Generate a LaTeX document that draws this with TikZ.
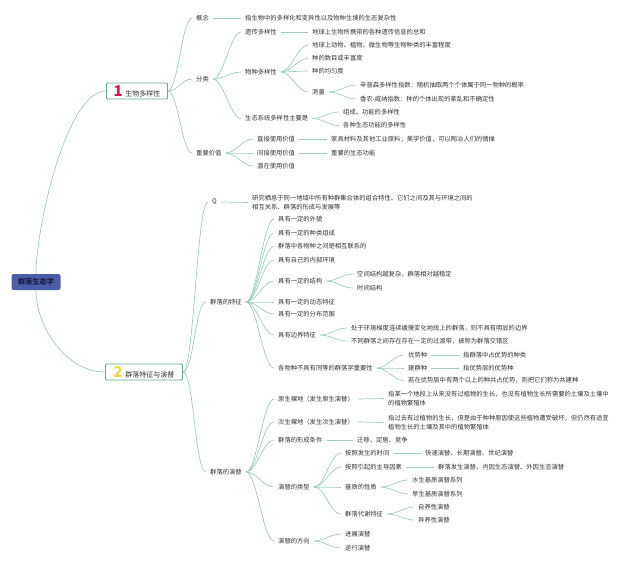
\documentclass[tikz,border=0pt]{standalone}
\usepackage{fontspec}
\setmainfont{Noto Sans CJK SC}
\definecolor{lnc}{HTML}{A3CCBF}
\definecolor{boxc}{HTML}{6AA593}
\definecolor{txt}{HTML}{333333}
\definecolor{rootc}{HTML}{4A5EA8}
\definecolor{roott}{HTML}{1B2142}
\definecolor{onec}{HTML}{D81B4A}
\definecolor{twoc}{HTML}{F0D84A}
\tikzset{
  t/.style={anchor=west, inner xsep=4pt, inner ysep=1pt, text=txt, align=left,
            font=\fontsize{6.3}{9}\selectfont},
  ln/.style={draw=lnc, line width=0.7pt},
  cv/.style={to path={.. controls +(#1,0) and +(-#1,0) .. (\tikztotarget)}},
  cv/.default=11,
  mainbox/.style={draw=boxc, line width=0.9pt, fill=white, rounded corners=1pt,
            minimum height=16pt, inner xsep=3pt, inner ysep=0pt, text=txt,
            font=\fontsize{7}{8}\selectfont, anchor=west},
}
\begin{document}
\begin{tikzpicture}
\useasboundingbox (0,0) rectangle (640pt,-565pt);
\begin{scope}[x=1pt,y=1pt]
% root and main boxes
\node[fill=rootc, rounded corners=2pt, minimum width=49pt, minimum height=16pt, inner sep=0pt,
      text=roott, font=\fontsize{7.2}{8}\selectfont\bfseries] (root) at (36,-282) {群落生态学};
\node[mainbox, minimum width=61pt] (b1) at (106,-91)
  {{\color{onec}\fontsize{15}{15}\selectfont\bfseries 1}\hspace{2.5pt}生物多样性};
\node[mainbox, minimum width=77pt] (b2) at (105,-372)
  {{\color{twoc}\fontsize{15}{15}\selectfont\bfseries 2}\hspace{2.5pt}群落特征与演替};

% ---- branch 1
\node[t] (gn) at (192,-18) {概念};
\node[t] (gnd) at (241,-18) {指生物中的多样化和变异性以及物种生境的生态复杂性};
\node[t] (fl) at (192,-79) {分类};
\node[t] (yc) at (241,-32) {遗传多样性};
\node[t] (ycd) at (308,-32) {地球上生物所携带的各种遗传信息的总和};
\node[t] (wz) at (241,-72) {物种多样性};
\node[t] (wz1) at (308,-45) {地球上动物、植物、微生物等生物种类的丰富程度};
\node[t] (wz2) at (308,-58.5) {种的数目或丰富度};
\node[t] (wz3) at (308,-71) {种的均匀度};
\node[t] (cl) at (308,-92) {测量};
\node[t] (cl1) at (356,-85) {辛普森多样性指数：随机抽取两个个体属于同一物种的概率};
\node[t] (cl2) at (356,-99) {香农-威纳指数：种的个体出现的紊乱和不确定性};
\node[t] (st) at (241,-118.5) {生态系统多样性主要是};
\node[t] (st1) at (339,-112) {组成、功能的多样性};
\node[t] (st2) at (339,-125.5) {各种生态功能的多样性};
\node[t] (zy) at (192,-153) {重要价值};
\node[t] (zj) at (253,-139) {直接使用价值};
\node[t] (zjd) at (327,-139) {家具材料及其他工业原料；美学价值，可以陶冶人们的情操};
\node[t] (jj) at (253,-153) {间接使用价值};
\node[t] (jjd) at (327,-153) {重要的生态功能};
\node[t] (qz) at (253,-166) {潜在使用价值};

% ---- branch 2
\node[t] (q) at (208,-202) {Q};
\node[t] (qd) at (248,-202.5) {研究栖息于同一地域中所有种群集合体的组合特性、它们之间及其与环境之间的\\相互关系、群落的形成与发展等};
\node[t] (tz) at (206,-302) {群落的特征};
\node[t] (tz1) at (274,-219) {具有一定的外貌};
\node[t] (tz2) at (274,-233) {具有一定的种类组成};
\node[t] (tz3) at (274,-246.5) {群落中各物种之间是相互联系的};
\node[t] (tz4) at (274,-260) {具有自己的内部环境};
\node[t] (jg) at (274,-281) {具有一定的结构};
\node[t] (jg1) at (353,-274) {空间结构越复杂，群落相对越稳定};
\node[t] (jg2) at (353,-288) {时间结构};
\node[t] (tz6) at (274,-302) {具有一定的动态特征};
\node[t] (tz7) at (274,-314) {具有一定的分布范围};
\node[t] (bj) at (274,-335) {具有边界特征};
\node[t] (bj1) at (347,-328) {处于环境梯度连续缓慢变化地段上的群落，则不具有明显的边界};
\node[t] (bj2) at (347,-341) {不同群落之间存在存在一定的过渡带，被称为群落交错区};
\node[t] (zyx) at (274,-368) {各物种不具有同等的群落学重要性};
\node[t] (ysz) at (404,-355) {优势种};
\node[t] (yszd) at (459,-355) {指群落中占优势的种类};
\node[t] (jqz) at (404,-368) {建群种};
\node[t] (jqzd) at (459,-368) {指优势层的优势种};
\node[t] (gjz) at (404,-380.5) {若在优势层中有两个以上的种共占优势，则把它们称为共建种};

\node[t] (yt) at (206,-472) {群落的演替};
\node[t] (ls1) at (274,-399) {原生裸地（发生原生演替）};
\node[t] (ls1d) at (384,-398.5) {指某一个地段上从来没有过植物的生长，也没有植物生长所需要的土壤及土壤中\\的植物繁殖体};
\node[t] (ls2) at (274,-422) {次生裸地（发生次生演替）};
\node[t] (ls2d) at (384,-422.5) {指过去有过植物的生长，但是由于种种原因使这些植物遭受破坏，但仍然有适宜\\植物生长的土壤及其中的植物繁殖体};
\node[t] (xc) at (274,-440) {群落的形成条件};
\node[t] (xcd) at (353,-440) {迁移、定居、竞争};
\node[t] (lx) at (274,-487) {演替的类型};
\node[t] (lx1) at (341,-453) {按照发生的时间};
\node[t] (lx1d) at (421,-453) {快速演替、长期演替、世纪演替};
\node[t] (lx2) at (341,-467) {按照引起的主导因素};
\node[t] (lx2d) at (434,-467) {群落发生演替、内因生态演替、外因生态演替};
\node[t] (jz) at (341,-487) {基质的性质};
\node[t] (jz1) at (408,-480) {水生基质演替系列};
\node[t] (jz2) at (408,-494) {旱生基质演替系列};
\node[t] (dx) at (341,-514) {群落代谢特征};
\node[t] (dx1) at (414,-507) {自养性演替};
\node[t] (dx2) at (414,-520) {异养性演替};
\node[t] (fx) at (274,-541) {演替的方向};
\node[t] (fx1) at (341,-534) {进展演替};
\node[t] (fx2) at (341,-548) {逆行演替};

% ---- connectors
\draw[ln] (root.north) .. controls +(0,45) and +(-40,0) .. (b1.west);
\draw[ln] (root.south) .. controls +(0,-35) and +(-40,0) .. (b2.west);

\draw[ln] (b1.east) to[cv=10] (gn.west);
\draw[ln] (b1.east) to[cv=10] (fl.west);
\draw[ln] (b1.east) to[cv=10] (zy.west);
\draw[ln] (gn.east) -- (gnd.west);
\foreach \c in {yc,wz,st} \draw[ln] (fl.east) to[cv=10] (\c.west);
\draw[ln] (yc.east) -- (ycd.west);
\foreach \c in {wz1,wz2,wz3,cl} \draw[ln] (wz.east) to[cv=10] (\c.west);
\foreach \c in {cl1,cl2} \draw[ln] (cl.east) to[cv=10] (\c.west);
\foreach \c in {st1,st2} \draw[ln] (st.east) to[cv=10] (\c.west);
\foreach \c in {zj,jj,qz} \draw[ln] (zy.east) to[cv=10] (\c.west);
\draw[ln] (zj.east) -- (zjd.west);
\draw[ln] (jj.east) -- (jjd.west);

\draw[ln] (b2.east) to[cv=11] (q.west);
\draw[ln] (b2.east) to[cv=11] (tz.west);
\draw[ln] (b2.east) to[cv=11] (yt.west);
\draw[ln] (q.east) -- (qd.west);
\foreach \c in {tz1,tz2,tz3,tz4,jg,tz6,tz7,bj,zyx} \draw[ln] (tz.east) to[cv=11] (\c.west);
\foreach \c in {jg1,jg2} \draw[ln] (jg.east) to[cv=10] (\c.west);
\foreach \c in {bj1,bj2} \draw[ln] (bj.east) to[cv=10] (\c.west);
\foreach \c in {ysz,jqz,gjz} \draw[ln] (zyx.east) to[cv=10] (\c.west);
\draw[ln] (ysz.east) -- (yszd.west);
\draw[ln] (jqz.east) -- (jqzd.west);
\foreach \c in {ls1,ls2,xc,lx,fx} \draw[ln] (yt.east) to[cv=11] (\c.west);
\draw[ln] (ls1.east) -- (ls1d.west);
\draw[ln] (ls2.east) -- (ls2d.west);
\draw[ln] (xc.east) -- (xcd.west);
\foreach \c in {lx1,lx2,jz,dx} \draw[ln] (lx.east) to[cv=11] (\c.west);
\draw[ln] (lx1.east) -- (lx1d.west);
\draw[ln] (lx2.east) -- (lx2d.west);
\foreach \c in {jz1,jz2} \draw[ln] (jz.east) to[cv=10] (\c.west);
\foreach \c in {dx1,dx2} \draw[ln] (dx.east) to[cv=10] (\c.west);
\foreach \c in {fx1,fx2} \draw[ln] (fx.east) to[cv=10] (\c.west);
\end{scope}
\end{tikzpicture}
\end{document}
